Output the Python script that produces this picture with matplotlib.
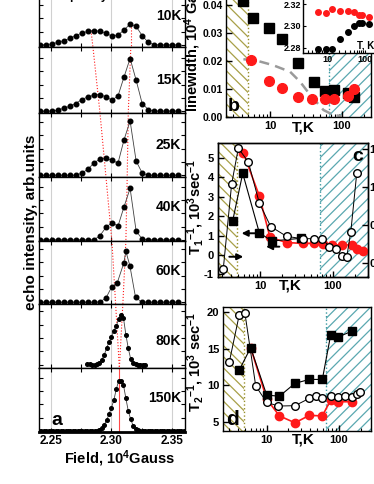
import numpy as np
import matplotlib
matplotlib.use('Agg')
import matplotlib.pyplot as plt
from matplotlib.ticker import MultipleLocator, FixedLocator, NullFormatter, FormatStrFormatter

plt.rcParams.update({
    'font.family': ['Liberation Sans', 'DejaVu Sans'],
    'font.weight': 'bold',
    'mathtext.fontset': 'custom',
    'mathtext.rm': 'Liberation Sans:bold',
    'mathtext.bf': 'Liberation Sans:bold',
    'mathtext.it': 'Liberation Sans:bold',
    'mathtext.default': 'bf',
    'hatch.linewidth': 0.9,
    'axes.linewidth': 1.0,
})

# ---------------- data: panel a (NMR spectra) ----------------
temps_a = ['10K', '15K', '25K', '40K', '60K', '80K', '150K']

field_grid = [2.2405, 2.2455, 2.2505, 2.2555, 2.2605, 2.2655, 2.2705, 2.2755,
              2.2805, 2.2855, 2.2905, 2.2955, 2.3005, 2.3055, 2.3105, 2.3155,
              2.3205, 2.3255, 2.3305, 2.3355, 2.3405, 2.3455, 2.3505, 2.3555]
echo_10K = [0, 1, 3, 8, 13, 20, 28, 36, 41, 43, 41, 36, 26, 30, 45, 63, 56, 28, 8, 1, 0, 0, 0, 0]
echo_15K = [0, 0, 0, 3, 9, 15, 23, 35, 43, 48, 50, 43, 33, 46, 103, 158, 93, 23, 5, 0, 0, 0, 0, 0]
echo_25K = [0, 0, 0, 0, 0, 0, 0, 7, 18, 37, 49, 51, 45, 37, 107, 163, 43, 7, 0, 0, 0, 0, 0, 0]
echo_40K = [0, 0, 0, 0, 0, 0, 0, 0, 0, 0, 13, 38, 52, 42, 100, 155, 27, 3, 0, 0, 0, 0, 0, 0]

field_60K = [2.2405, 2.2455, 2.2505, 2.2555, 2.2605, 2.2655, 2.2705, 2.2755, 2.2805,
             2.2855, 2.2905, 2.2955, 2.3002, 2.3048, 2.3103, 2.3120, 2.3153, 2.3200,
             2.3250, 2.3305, 2.3355, 2.3405, 2.3455, 2.3505, 2.3555]
echo_60K = [0, 0, 0, 0, 0, 0, 0, 0, 0, 0, 1, 13, 46, 58, 118, 153, 110, 15, 1, 0, 0, 0, 0, 0, 0]

field_80K = [2.280, 2.282, 2.284, 2.286, 2.288, 2.290, 2.292, 2.294, 2.296, 2.298,
             2.300, 2.302, 2.304, 2.306, 2.308, 2.310, 2.312, 2.314, 2.316, 2.318,
             2.320, 2.322, 2.324, 2.326, 2.328]
echo_80K = [2, 1, 0, 0, 2, 5, 15, 28, 50, 67, 84, 102, 115, 137, 149, 140, 90, 49, 17, 4,
            1, 0, 0, 0, 0]

field_150K = [2.240, 2.242, 2.244, 2.246, 2.248, 2.250, 2.252, 2.254, 2.256, 2.258,
              2.260, 2.262, 2.264, 2.266, 2.268, 2.270, 2.272, 2.274, 2.276, 2.278,
              2.280, 2.282, 2.284, 2.286, 2.288, 2.290, 2.292, 2.294, 2.296, 2.298,
              2.300, 2.302, 2.304, 2.306, 2.308, 2.310, 2.312, 2.314, 2.316, 2.318,
              2.320, 2.322, 2.324, 2.326, 2.328, 2.330, 2.332, 2.334, 2.336, 2.338,
              2.340, 2.342, 2.344, 2.346, 2.348, 2.350, 2.352, 2.354, 2.356, 2.358,
              2.360]
echo_150K = [0, 0, 0, 0, 0, 0, 0, 0, 0, 0, 0, 0, 0, 0, 0, 0, 0, 0, 0, 0, 0, 0, 0, 0,
             1, 3, 8, 18, 32, 50, 70, 92, 125, 150, 150, 138, 98, 60, 35, 16, 6, 2,
             0, 0, 0, 0, 0, 0, 0, 0, 0, 0, 0, 0, 0, 0, 0, 0, 0, 0, 0]

spectra_x = [field_grid, field_grid, field_grid, field_grid, field_60K, field_80K, field_150K]
spectra_y = [echo_10K, echo_15K, echo_25K, echo_40K, echo_60K, echo_80K, echo_150K]

# peak-position guide lines (field at panel boundaries, top to bottom)
guide_left = [2.2831, 2.2847, 2.2905, 2.2955, 2.3004, 2.3035, 2.3066]
guide_right = [2.3161, 2.3161, 2.3140, 2.3131, 2.3120, 2.3095, 2.3066]

# ---------------- data: panel b (linewidth) ----------------
b_T_sq = [4.25, 5.7, 9.7, 14.8, 24.8, 40.2, 58.5, 78, 120, 149]
b_w_sq = [0.0416, 0.0353, 0.0317, 0.0277, 0.0191, 0.0123, 0.0092, 0.0096, 0.0084, 0.0072]
b_T_red = [5.5, 9.7, 14.8, 24.3, 38.9, 58.5, 78, 120, 149]
b_w_red = [0.0203, 0.0129, 0.0102, 0.0072, 0.0062, 0.0065, 0.0062, 0.0074, 0.0098]
b_fit_T = [4.25, 6.5, 10.9, 19, 26.2, 36.1, 55.3, 76, 100]
b_fit_w = [0.0206, 0.0201, 0.0185, 0.0161, 0.0125, 0.0078, 0.0024, 0.0006, 0.0002]

# inset: peak positions
in_T = [5.7, 9.4, 13.7, 22, 35, 51, 68, 81, 128]
in_red = [2.3125, 2.3116, 2.3152, 2.3140, 2.3137, 2.3128, 2.3097, 2.3097, 2.3079]
in_blk = [2.2788, 2.2791, 2.2791, 2.2877, 2.2941, 2.3002, 2.3024, 2.3024, 2.3017]

# ---------------- data: panel c (T1^-1) ----------------
c_T_red = [5.9, 9.8, 13.7, 23.2, 38.4, 55, 73.8, 95.9, 131, 180, 211, 255]
c_v_red = [5.27, 3.04, 0.91, 0.64, 0.60, 0.60, 0.57, 0.52, 0.52, 0.52, 0.29, 0.22]
c_T_open = [3.14, 4.09, 5.05, 6.92, 9.78, 14.0, 23.2, 38.4, 55, 71.5, 89, 110, 131, 154, 175, 211]
c_v_open = [-0.08, 1.04, 1.51, 1.33, 0.79, 0.48, 0.35, 0.32, 0.32, 0.32, 0.21, 0.19, 0.09, 0.08, 0.41, 1.18]
c_T_sq = [4.23, 5.8, 9.78, 14.5, 36.1]
c_v_sq = [1.77, 4.21, 1.15, 0.72, 0.86]

# ---------------- data: panel d (T2^-1) ----------------
d_T_open = [3.04, 4.18, 5.0, 7.05, 10, 14.5, 24.6, 38.8, 48, 58.8, 76.7, 95.9, 121, 150, 176, 195]
d_v_open = [13.2, 19.7, 19.86, 9.9, 7.65, 7.15, 7.2, 8.2, 8.5, 8.3, 8.5, 8.4, 8.5, 8.4, 8.75, 9.1]
d_T_sq = [4.18, 6.0, 10, 15, 24.6, 38.8, 58.8, 76.7, 95.9, 150]
d_v_sq = [12.1, 15.15, 8.65, 8.5, 10.26, 10.8, 10.8, 16.9, 16.6, 17.4]
d_T_red = [6.0, 10, 15, 24.6, 38.8, 58.8, 76.7, 95.9, 150]
d_v_red = [15.15, 8.1, 5.8, 4.85, 5.87, 5.8, 7.97, 7.74, 7.74]

T_low, T_high = 4.9, 67   # hatched region boundaries

# ---------------- figure ----------------
W, H = 374, 484
fig = plt.figure(figsize=(W / 100, H / 100), dpi=100)


def add_ax(l, t, r, b):
    return fig.add_axes([l / W, 1 - b / H, (r - l) / W, (b - t) / H])


edges = [-18, 47, 112.5, 177, 241, 304, 368, 432]
ylo = [-6, -4, -5, -3, -5, -10, -3]
label_y = [0.47, 0.50, 0.50, 0.53, 0.52, 0.42, 0.53]
RED = '#ff1a1a'

for i in range(7):
    ax = add_ax(39, edges[i], 185, edges[i + 1])
    hpx = (edges[i + 1] - edges[i]) * 3
    ax.set_xlim(2.240, 2.361)
    ax.set_ylim(ylo[i], ylo[i] + hpx)
    for v in (2.25, 2.30, 2.35):
        ax.axvline(v, color='#d0d0d0', lw=0.8, zorder=0)
    ms = 3.3 if i < 5 else 2.6
    ax.plot(spectra_x[i], spectra_y[i], '-', color='#404040', lw=0.6,
            marker='o', ms=ms, mfc='black', mec='black', zorder=3)
    ybot, ytop = ylo[i], ylo[i] + hpx
    if i == 0:
        ax.plot([guide_left[0], guide_left[1]], [43, ybot], ':', color=RED, lw=0.8, zorder=2)
        ax.plot([guide_right[0], guide_right[1]], [63, ybot], ':', color=RED, lw=0.8, zorder=2)
    elif i < 6:
        ax.plot([guide_left[i], guide_left[i + 1]], [ytop, ybot], ':', color=RED, lw=0.8, zorder=2)
        ax.plot([guide_right[i], guide_right[i + 1]], [ytop, ybot], ':', color=RED, lw=0.8, zorder=2)
    else:
        ax.plot([guide_left[6], guide_left[6]], [ytop, ybot], '-', color=RED, lw=0.8,
                alpha=0.8, zorder=2)
    ax.xaxis.set_major_locator(MultipleLocator(0.05))
    ax.xaxis.set_minor_locator(MultipleLocator(0.025))
    ax.yaxis.set_major_locator(MultipleLocator(40))
    ax.tick_params(which='both', direction='in', top=True, right=True, length=3,
                   width=0.8, labelleft=False, labelbottom=(i == 6), labelsize=8.5, pad=2)
    if i == 6:
        ax.xaxis.set_major_formatter(FormatStrFormatter('%.2f'))
        ax.spines['bottom'].set_linewidth(2.0)
        ax.text(0.12, 0.18, 'a', transform=ax.transAxes, fontsize=14,
                fontweight='bold', ha='center', va='center')
    ax.text(0.975, label_y[i], temps_a[i], transform=ax.transAxes, fontsize=10,
            fontweight='bold', ha='right', va='center')

fig.text(99 / W, 1 + 3.5 / H, 'frequency 98MHz', fontsize=8.5, fontweight='bold',
         ha='center', va='center')
fig.text(31 / W, 1 - 222 / H, 'echo intensity, arb.units', rotation=90, fontsize=11,
         fontweight='bold', ha='center', va='center')
fig.text(119 / W, 1 - 459 / H, 'Field, 10$^4$Gauss', fontsize=10.5, fontweight='bold',
         ha='center', va='center')

OLIVE = '#a8a048'
TEAL = '#5aa8b0'


def style_log(ax, xlim, labels=True):
    ax.set_xscale('log')
    ax.set_xlim(*xlim)
    ax.xaxis.set_major_locator(FixedLocator([10, 100]))
    ax.xaxis.set_major_formatter(FormatStrFormatter('%d'))
    ax.xaxis.set_minor_locator(FixedLocator([3, 4, 5, 6, 7, 8, 9, 20, 30, 40, 50, 60, 70, 80, 90, 200, 300]))
    ax.xaxis.set_minor_formatter(NullFormatter())
    ax.tick_params(which='major', direction='in', length=4, width=1.0, labelsize=8, pad=3)
    ax.tick_params(which='minor', direction='in', length=2, width=0.8)
    ax.tick_params(axis='x', labelbottom=labels)


def hatch(ax, xlim):
    ax.axvspan(xlim[0], T_low, facecolor='none', edgecolor=OLIVE, hatch='\\\\\\', lw=0, zorder=0)
    ax.axvline(T_low, ls=':', color='#98902c', lw=1.0, zorder=1)
    ax.axvspan(T_high, xlim[1], facecolor='none', edgecolor=TEAL, hatch='///', lw=0, zorder=0)
    ax.axvline(T_high, ls=':', color='#3a98a0', lw=1.0, zorder=1)


# ---------------- panel b ----------------
xb = (2.434, 253.6)
ax_b = add_ax(226, -22.8, 371, 116.7)
style_log(ax_b, xb)
ax_b.set_ylim(0, 0.05)
ax_b.yaxis.set_major_locator(MultipleLocator(0.01))
ax_b.yaxis.set_major_formatter(FormatStrFormatter('%.2f'))
ax_b.tick_params(axis='y', labelsize=7.5, pad=2)
hatch(ax_b, xb)
ax_b.plot(b_fit_T, b_fit_w, '--', color='#9a9a9a', lw=1.8, dashes=(4, 2.5), zorder=2)
ax_b.plot(b_T_sq, b_w_sq, 's', color='black', ms=6.5, zorder=3, clip_on=True)
ax_b.plot(b_T_red, b_w_red, 'o', color=RED, ms=7, zorder=3)
ax_b.text(0.05, 0.075, 'b', transform=ax_b.transAxes, fontsize=14, fontweight='bold',
          ha='center', va='center')
fig.text(303 / W, 1 - 128 / H, 'T,K', fontsize=11, fontweight='bold', ha='center', va='center')
fig.text(193 / W, 1 - 112 / H, 'linewidth, 10$^4$ Gauss', rotation=90, fontsize=10.5,
         fontweight='bold', ha='center', va='bottom')

# inset
xi = (2.3, 250)
ax_in = add_ax(303.3, -2, 380, 52.7)
ax_in.set_xscale('log')
ax_in.set_xlim(*xi)
ax_in.set_ylim(2.2754, 2.3256)
ax_in.plot(in_T, in_red, 'o', color=RED, ms=4)
ax_in.plot(in_T, in_blk, 'o', color='black', ms=4)
ax_in.xaxis.set_major_locator(FixedLocator([10, 100]))
ax_in.xaxis.set_major_formatter(FormatStrFormatter('%d'))
ax_in.xaxis.set_minor_formatter(NullFormatter())
ax_in.yaxis.set_major_locator(MultipleLocator(0.02))
ax_in.yaxis.set_major_formatter(FormatStrFormatter('%.2f'))
ax_in.tick_params(which='both', direction='in', labelsize=6.5, length=2.5, pad=1.5, width=0.8)
ax_in.text(366 / W, 1 - 46 / H, 'T, K', transform=fig.transFigure, fontsize=7,
           fontweight='bold', ha='center', va='center')

# ---------------- panel c ----------------
xc = (2.66, 301)
ax_c = add_ax(218, 143.3, 368, 277)
style_log(ax_c, xc)
ax_c.set_ylim(-1.134, 5.758)
ax_c.yaxis.set_major_locator(MultipleLocator(1))
ax_c.yaxis.set_major_formatter(FormatStrFormatter('%d'))
hatch(ax_c, xc)
ax_c.plot(c_T_red, c_v_red, '-', color=RED, lw=1.2, marker='o', ms=6, zorder=3)
ax_c.plot(c_T_sq, c_v_sq, '-', color='black', lw=0.8, marker='s', ms=5.5, zorder=4)
ax_c2 = ax_c.twinx()
ax_c2.set_ylim(-0.184, 1.575)
ax_c2.plot(c_T_open, c_v_open, '-', color='black', lw=0.7, marker='o', ms=5.5,
           mfc='white', mec='black', mew=1.0, zorder=5)
ax_c2.yaxis.set_major_locator(FixedLocator([0, 0.5, 1.0, 1.5]))
ax_c2.yaxis.set_major_formatter(FormatStrFormatter('%.1f'))
ax_c2.tick_params(direction='in', length=4, width=1.0, labelsize=8, pad=1)
arrow = dict(arrowstyle='-|>', color='black', lw=1.4, mutation_scale=9,
             shrinkA=0, shrinkB=0)
ax_c.annotate('', xy=(5.6, 1.12), xytext=(9.0, 1.12), arrowprops=arrow, zorder=6)
ax_c.annotate('', xy=(12.1, 0.43), xytext=(18.4, 0.43), arrowprops=arrow, zorder=6)
ax_c.annotate('', xy=(5.9, -0.09), xytext=(3.8, -0.09), arrowprops=arrow, zorder=6)
ax_c.text(0.93, 0.9, 'c', transform=ax_c.transAxes, fontsize=14, fontweight='bold',
          ha='center', va='center')
fig.text(290 / W, 1 - 285 / H, 'T,K', fontsize=11, fontweight='bold', ha='center', va='center')
fig.text(196 / W, 1 - 207 / H, 'T$_1$$^{-1}$, 10$^3$sec$^{-1}$', rotation=90, fontsize=10.5,
         fontweight='bold', ha='center', va='center')

# ---------------- panel d ----------------
xd = (2.51, 277)
ax_d = add_ax(223.3, 306.7, 371, 430.7)
style_log(ax_d, xd)
ax_d.set_ylim(3.77, 20.77)
ax_d.yaxis.set_major_locator(FixedLocator([5, 10, 15, 20]))
ax_d.yaxis.set_major_formatter(FormatStrFormatter('%d'))
hatch(ax_d, xd)
ax_d.plot(d_T_red, d_v_red, '-', color=RED, lw=1.2, marker='o', ms=6, zorder=3)
ax_d.plot(d_T_sq, d_v_sq, '-', color='black', lw=0.8, marker='s', ms=5.5, zorder=4)
ax_d.plot(d_T_open, d_v_open, '-', color='black', lw=0.7, marker='o', ms=5.5,
          mfc='white', mec='black', mew=1.0, zorder=5)
ax_d.text(0.06, 0.09, 'd', transform=ax_d.transAxes, fontsize=15, fontweight='bold',
          ha='center', va='center')
fig.text(303 / W, 1 - 440 / H, 'T,K', fontsize=11, fontweight='bold', ha='center', va='center')
fig.text(196 / W, 1 - 362 / H, 'T$_2$$^{-1}$, 10$^3$ sec$^{-1}$', rotation=90, fontsize=10.5,
         fontweight='bold', ha='center', va='center')

fig.savefig('out.png', dpi=100)
